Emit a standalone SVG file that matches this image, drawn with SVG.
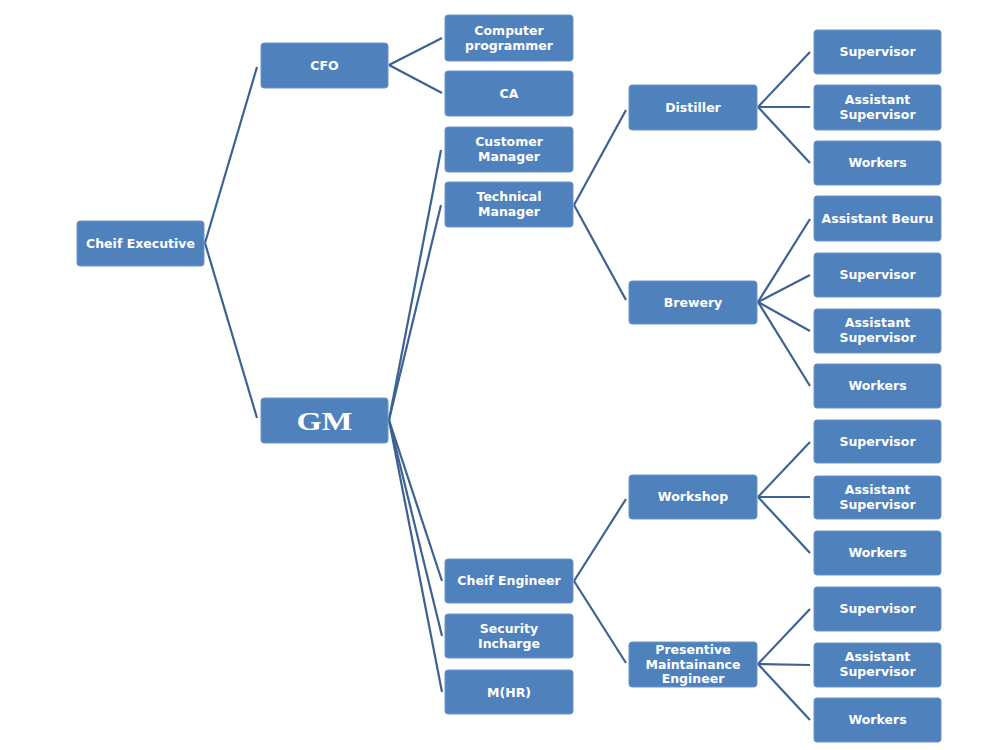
<svg xmlns="http://www.w3.org/2000/svg" width="1000" height="750" viewBox="0 0 1000 750">
<style>
.b{fill:#4f81bd;stroke:#6a95c8;stroke-width:1}
.t{fill:#ffffff;font-family:"DejaVu Sans","Liberation Sans",sans-serif;font-size:12.5px;font-weight:bold;text-anchor:middle}
.gm{fill:#ffffff;font-family:"Liberation Serif","Times New Roman",serif;font-size:25px;font-weight:bold;text-anchor:middle}
.c line{stroke:#3d6291;stroke-width:2.2}
</style>
<rect width="1000" height="750" fill="#ffffff"/>
<g class="c" id="connectors">
<line x1="205" y1="243" x2="257" y2="67"/>
<line x1="205" y1="243" x2="257" y2="418"/>
<line x1="389" y1="65" x2="442" y2="38"/>
<line x1="389" y1="65" x2="442" y2="93"/>
<line x1="389" y1="420" x2="441" y2="150"/>
<line x1="389" y1="420" x2="441" y2="205"/>
<line x1="389" y1="420" x2="442" y2="581"/>
<line x1="389" y1="420" x2="442" y2="636"/>
<line x1="389" y1="420" x2="442" y2="692"/>
<line x1="574" y1="205" x2="626" y2="110"/>
<line x1="574" y1="205" x2="626" y2="300"/>
<line x1="758" y1="107" x2="810" y2="52"/>
<line x1="758" y1="107" x2="810" y2="107"/>
<line x1="758" y1="107" x2="810" y2="163"/>
<line x1="758" y1="302" x2="810" y2="219"/>
<line x1="758" y1="302" x2="810" y2="275"/>
<line x1="758" y1="302" x2="810" y2="331"/>
<line x1="758" y1="302" x2="810" y2="386"/>
<line x1="574" y1="581" x2="626" y2="499"/>
<line x1="574" y1="581" x2="626" y2="663"/>
<line x1="758" y1="497" x2="810" y2="442"/>
<line x1="758" y1="497" x2="810" y2="497"/>
<line x1="758" y1="497" x2="810" y2="553"/>
<line x1="758" y1="664" x2="810" y2="609"/>
<line x1="758" y1="664" x2="810" y2="665"/>
<line x1="758" y1="664" x2="810" y2="720"/>
</g>
<g id="chief-executive"><rect class="b" x="77" y="221" width="127" height="45" rx="3"/><text class="t" x="140.5" y="248">Cheif Executive</text></g>
<g id="cfo"><rect class="b" x="261" y="43" width="127" height="45" rx="3"/><text class="t" x="324.5" y="70">CFO</text></g>
<g id="gm"><rect class="b" x="261" y="398" width="127" height="45" rx="3"/><text class="gm" x="324.5" y="430" textLength="56" lengthAdjust="spacingAndGlyphs">GM</text></g>
<g id="computer-programmer"><rect class="b" x="445" y="15" width="128" height="46" rx="3"/><text class="t" x="509" y="35">Computer</text><text class="t" x="509" y="50">programmer</text></g>
<g id="ca"><rect class="b" x="445" y="71" width="128" height="45" rx="3"/><text class="t" x="509" y="98">CA</text></g>
<g id="customer-manager"><rect class="b" x="445" y="127" width="128" height="45" rx="3"/><text class="t" x="509" y="146">Customer</text><text class="t" x="509" y="161">Manager</text></g>
<g id="technical-manager"><rect class="b" x="445" y="182" width="128" height="45" rx="3"/><text class="t" x="509" y="201">Technical</text><text class="t" x="509" y="216">Manager</text></g>
<g id="chief-engineer"><rect class="b" x="445" y="559" width="128" height="44" rx="3"/><text class="t" x="509" y="585">Cheif Engineer</text></g>
<g id="security-incharge"><rect class="b" x="445" y="614" width="128" height="44" rx="3"/><text class="t" x="509" y="633">Security</text><text class="t" x="509" y="648">Incharge</text></g>
<g id="mhr"><rect class="b" x="445" y="670" width="128" height="44" rx="3"/><text class="t" x="509" y="697">M(HR)</text></g>
<g id="distiller"><rect class="b" x="629" y="85" width="128" height="45" rx="3"/><text class="t" x="693" y="112">Distiller</text></g>
<g id="brewery"><rect class="b" x="629" y="281" width="128" height="43" rx="3"/><text class="t" x="693" y="307">Brewery</text></g>
<g id="workshop"><rect class="b" x="629" y="475" width="128" height="44" rx="3"/><text class="t" x="693" y="501">Workshop</text></g>
<g id="pme"><rect class="b" x="629" y="642" width="128" height="45" rx="3"/><text class="t" x="693" y="654">Presentive</text><text class="t" x="693" y="668.5">Maintainance</text><text class="t" x="693" y="683">Engineer</text></g>
<g id="d-supervisor"><rect class="b" x="814" y="30" width="127" height="44" rx="3"/><text class="t" x="877.5" y="56">Supervisor</text></g>
<g id="d-asst-supervisor"><rect class="b" x="814" y="85" width="127" height="45" rx="3"/><text class="t" x="877.5" y="104">Assistant</text><text class="t" x="877.5" y="119">Supervisor</text></g>
<g id="d-workers"><rect class="b" x="814" y="141" width="127" height="44" rx="3"/><text class="t" x="877.5" y="167">Workers</text></g>
<g id="b-asst-beuru"><rect class="b" x="814" y="196" width="127" height="45" rx="3"/><text class="t" x="877.5" y="223">Assistant Beuru</text></g>
<g id="b-supervisor"><rect class="b" x="814" y="253" width="127" height="44" rx="3"/><text class="t" x="877.5" y="279">Supervisor</text></g>
<g id="b-asst-supervisor"><rect class="b" x="814" y="309" width="127" height="44" rx="3"/><text class="t" x="877.5" y="327">Assistant</text><text class="t" x="877.5" y="342">Supervisor</text></g>
<g id="b-workers"><rect class="b" x="814" y="364" width="127" height="44" rx="3"/><text class="t" x="877.5" y="390">Workers</text></g>
<g id="w-supervisor"><rect class="b" x="814" y="420" width="127" height="43" rx="3"/><text class="t" x="877.5" y="446">Supervisor</text></g>
<g id="w-asst-supervisor"><rect class="b" x="814" y="476" width="127" height="43" rx="3"/><text class="t" x="877.5" y="494">Assistant</text><text class="t" x="877.5" y="509">Supervisor</text></g>
<g id="w-workers"><rect class="b" x="814" y="531" width="127" height="44" rx="3"/><text class="t" x="877.5" y="557">Workers</text></g>
<g id="p-supervisor"><rect class="b" x="814" y="587" width="127" height="44" rx="3"/><text class="t" x="877.5" y="613">Supervisor</text></g>
<g id="p-asst-supervisor"><rect class="b" x="814" y="643" width="127" height="44" rx="3"/><text class="t" x="877.5" y="661">Assistant</text><text class="t" x="877.5" y="676">Supervisor</text></g>
<g id="p-workers"><rect class="b" x="814" y="698" width="127" height="44" rx="3"/><text class="t" x="877.5" y="724">Workers</text></g>
</svg>
